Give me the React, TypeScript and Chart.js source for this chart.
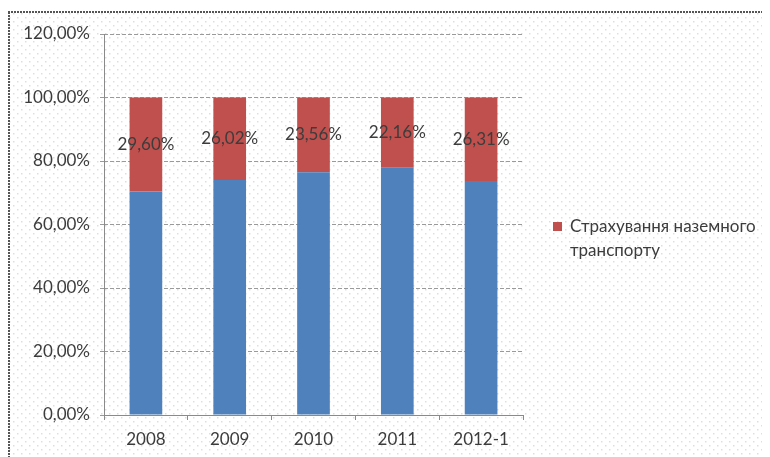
import React, { useEffect, useRef } from "react";
import { Chart, registerables } from "chart.js";

Chart.register(...registerables);

const categories = ["2008", "2009", "2010", "2011", "2012-1"];
const otherShare = [70.4, 73.98, 76.44, 77.84, 73.69];
const landTransportShare = [29.6, 26.02, 23.56, 22.16, 26.31];
const seriesLabels = ["Інші види страхування", "Страхування наземного транспорту"];
const legendLines = ["Страхування наземного", "транспорту"];
const yTicksMax = 120;
const yTicksStep = 20;

const FONT = "Lato, 'Open Sans', sans-serif";
const TEXT = "#3c3c3c";
const FS = 17;
const fmt = (v: number) => v.toFixed(2).replace(".", ",") + "%";

export default function App() {
  const ref = useRef<HTMLCanvasElement | null>(null);

  useEffect(() => {
    if (!ref.current) return;

    const pat = document.createElement("canvas");
    pat.width = 8;
    pat.height = 8;
    const pc = pat.getContext("2d")!;
    pc.fillStyle = "rgba(0,0,0,0.13)";
    pc.fillRect(1, 1, 1.5, 1.5);
    pc.fillRect(5, 5, 1.5, 1.5);

    const bgPlugin = {
      id: "bg",
      beforeDraw(chart: any) {
        const c = chart.ctx;
        c.save();
        c.fillStyle = "#fff";
        c.fillRect(0, 0, chart.width, chart.height);
        const p = c.createPattern(pat, "repeat");
        if (p) {
          c.fillStyle = p;
          c.fillRect(0, 4, chart.width, chart.height);
        }
        c.strokeStyle = "#555";
        c.lineWidth = 2;
        c.setLineDash([2, 1]);
        c.beginPath();
        c.moveTo(0, 4);
        c.lineTo(chart.width, 4);
        c.moveTo(1, 4);
        c.lineTo(1, chart.height);
        c.stroke();
        c.restore();
      },
    };

    const labelPlugin = {
      id: "labels",
      beforeDatasetsDraw(chart: any) {
        const c = chart.ctx;
        const a = chart.chartArea;
        c.save();
        c.strokeStyle = "#8a8a8a";
        c.lineWidth = 1;
        c.beginPath();
        c.moveTo(Math.round(a.left) + 0.5, a.top);
        c.lineTo(Math.round(a.left) + 0.5, a.bottom);
        c.stroke();
        c.restore();
      },
      afterDatasetsDraw(chart: any) {
        const c = chart.ctx;
        const meta = chart.getDatasetMeta(1);
        c.save();
        c.font = `${FS}px ${FONT}`;
        c.fillStyle = TEXT;
        c.textAlign = "center";
        c.textBaseline = "middle";
        meta.data.forEach((el: any, i: number) => {
          const y = (el.y + el.base) / 2;
          c.fillText(fmt(landTransportShare[i]), el.x, y);
        });
        c.restore();
      },
      afterDraw(chart: any) {
        const c = chart.ctx;
        const ds = chart.data.datasets[1];
        c.save();
        c.fillStyle = ds.backgroundColor;
        c.fillRect(545, 214, 9, 9);
        c.font = `${FS}px ${FONT}`;
        c.fillStyle = TEXT;
        c.textAlign = "left";
        c.textBaseline = "middle";
        legendLines.forEach((t, i) => c.fillText(t, 562, 219 + i * 24));
        c.restore();
      },
    };

    const chart = new Chart(ref.current, {
      type: "bar",
      data: {
        labels: categories,
        datasets: [
          {
            label: seriesLabels[0],
            data: otherShare,
            backgroundColor: "#4F81BD",
            barPercentage: 0.39,
            categoryPercentage: 1,
          },
          {
            label: seriesLabels[1],
            data: landTransportShare,
            backgroundColor: "#C0504D",
            barPercentage: 0.39,
            categoryPercentage: 1,
          },
        ],
      },
      options: {
        animation: false,
        responsive: false,
        maintainAspectRatio: false,
        layout: { padding: { top: 26, right: 247, left: 0, bottom: 0 } },
        plugins: {
          legend: { display: false },
          tooltip: { enabled: false },
        },
        scales: {
          x: {
            stacked: true,
            grid: {
              offset: true,
              drawOnChartArea: false,
              drawTicks: true,
              tickLength: 5,
              color: "#8a8a8a",
            },
            border: { color: "#8a8a8a" },
            ticks: {
              color: TEXT,
              font: { family: FONT, size: FS },
              padding: 9,
            },
            afterFit(scale: any) {
              scale.height = 42;
            },
          },
          y: {
            stacked: true,
            min: 0,
            max: yTicksMax,
            ticks: {
              stepSize: yTicksStep,
              color: TEXT,
              font: { family: FONT, size: FS },
              padding: 10,
              callback: (v: any) => fmt(Number(v)),
            },
            grid: {
              color: "#9a9a9a",
              tickLength: 4,
              lineWidth: 1,
            },
            border: { display: false, dash: [4, 2] },
            afterFit(scale: any) {
              scale.width = 96;
            },
          },
        },
      } as any,
      plugins: [bgPlugin, labelPlugin],
    });

    return () => chart.destroy();
  }, []);

  return (
    <div style={{ width: 762, height: 449 }}>
      <canvas ref={ref} width={762} height={449} style={{ display: "block" }} />
    </div>
  );
}
